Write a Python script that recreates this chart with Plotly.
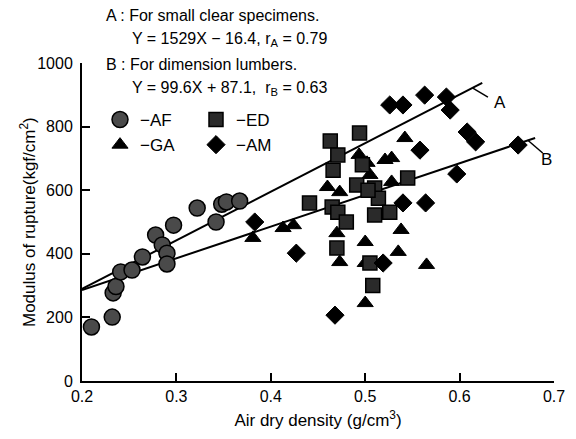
import plotly.graph_objects as go

# ---- data ----
af_x = [0.210, 0.232, 0.233, 0.236, 0.241, 0.253, 0.264, 0.278, 0.285, 0.290, 0.290, 0.297, 0.322, 0.342, 0.348, 0.353, 0.367]
af_y = [170, 201, 277, 297, 343, 349, 390, 459, 428, 402, 368, 490, 544, 500, 556, 563, 566]

ed_x = [0.463, 0.494, 0.471, 0.466, 0.497, 0.491, 0.510, 0.514, 0.441, 0.465, 0.471, 0.480, 0.510, 0.526, 0.545, 0.470, 0.505, 0.508, 0.503]
ed_y = [755, 780, 711, 663, 680, 616, 607, 575, 560, 547, 531, 500, 522, 531, 638, 418, 371, 300, 600]

ga_x = [0.381, 0.413, 0.424, 0.460, 0.473, 0.4935, 0.502, 0.505, 0.521, 0.528, 0.528, 0.542, 0.470, 0.473, 0.500, 0.500, 0.500, 0.538, 0.535, 0.565]
ga_y = [450, 481, 490, 610, 594, 711, 686, 648, 695, 701, 626, 764, 465, 374, 437, 371, 245, 475, 406, 365]

am_x = [0.383, 0.427, 0.468, 0.519, 0.526, 0.540, 0.563, 0.586, 0.590, 0.608, 0.617, 0.558, 0.662, 0.597, 0.540, 0.564]
am_y = [500, 402, 207, 371, 868, 868, 899, 893, 852, 783, 752, 726, 742, 651, 560, 560]

# regression lines (as drawn)
line_a = dict(slope=1529, intercept=-16.4, x_range=[0.2, 0.624])
line_b = dict(slope=996, intercept=87.1, x_range=[0.2, 0.68])

x_ticks = [0.2, 0.3, 0.4, 0.5, 0.6, 0.7]
y_ticks = [0, 200, 400, 600, 800, 1000]

FONT = "Liberation Sans, Arial, sans-serif"

fig = go.Figure()

for ln in (line_a, line_b):
    xs = ln["x_range"]
    ys = [ln["slope"] * v + ln["intercept"] for v in xs]
    fig.add_trace(go.Scatter(x=xs, y=ys, mode="lines", line=dict(color="black", width=2),
                             showlegend=False, hoverinfo="skip"))

fig.add_trace(go.Scatter(x=af_x, y=af_y, mode="markers", name="−AF", legend="legend",
                         marker=dict(symbol="circle", size=16, color="#4a4a4a",
                                     line=dict(color="black", width=1.5))))
fig.add_trace(go.Scatter(x=ga_x, y=ga_y, mode="markers", name="−GA", legend="legend",
                         marker=dict(symbol="triangle-up", size=14, color="black",
                                     line=dict(color="black", width=1))))
fig.add_trace(go.Scatter(x=ed_x, y=ed_y, mode="markers", name="−ED", legend="legend2",
                         marker=dict(symbol="square", size=14, color="#2a2a2a",
                                     line=dict(color="black", width=1.5))))
fig.add_trace(go.Scatter(x=am_x, y=am_y, mode="markers", name="−AM", legend="legend2",
                         marker=dict(symbol="diamond", size=14, color="black",
                                     line=dict(color="black", width=1))))

# page body has an 8px margin; compensate so the plot area lands at
# x 82..554, y 63..381 of the 576x439 window
OFF = 8
W, H = 576 - OFF, 439 - OFF
L, R, T, B = 82 - OFF, 22, 63 - OFF, 58
PL, PR, PT, PB = 82, 554, 63, 381  # plot area in window pixels


def px(xp):
    return (xp - PL) / (PR - PL)


def py(yp):
    return (PB - yp) / (PB - PT)


annos = [
    ("A : For small clear specimens.", 104, 15),
    ("Y = 1529X − 16.4, r<sub>A</sub> = 0.79", 130, 40),
    ("B : For dimension lumbers.", 104, 64),
    ("Y = 99.6X + 87.1,  r<sub>B</sub> = 0.63", 130, 88),
]
for txt, xp, yp in annos:
    fig.add_annotation(text=txt, xref="paper", yref="paper", x=px(xp), y=py(yp),
                       xanchor="left", yanchor="middle", showarrow=False,
                       font=dict(family=FONT, size=16, color="black"))

# y-axis title
fig.add_annotation(text="Modulus of rupture(kgf/cm<sup>2</sup>)", xref="paper", yref="paper",
                   x=px(28), y=py(222), xanchor="center", yanchor="middle", textangle=-90,
                   showarrow=False, font=dict(family=FONT, size=17, color="black"))

# line labels with leaders
fig.add_shape(type="line", x0=0.614, y0=921, x1=0.630, y1=893, line=dict(color="black", width=1.5))
fig.add_annotation(text="A", x=0.643, y=877, showarrow=False, font=dict(family=FONT, size=17, color="black"))
fig.add_shape(type="line", x0=0.672, y0=758, x1=0.688, y1=717, line=dict(color="black", width=1.5))
fig.add_annotation(text="B", x=0.692, y=698, showarrow=False, font=dict(family=FONT, size=17, color="black"))

axis_common = dict(showline=True, linecolor="black", linewidth=2, ticks="inside", ticklen=8,
                   tickwidth=1.5, tickcolor="black", showgrid=False, zeroline=False,
                   tickfont=dict(family=FONT, size=16, color="black"), mirror=False)

fig.update_xaxes(range=[0.2, 0.7], tickvals=x_ticks, ticktext=[f"{v:.1f}" for v in x_ticks],
                 title=dict(text="Air dry density (g/cm<sup>3</sup>)", font=dict(family=FONT, size=17, color="black"),
                            standoff=10),
                 **axis_common)
fig.update_yaxes(range=[0, 1000], tickvals=y_ticks, ticklabelstandoff=4, **axis_common)

leg_font = dict(family=FONT, size=17, color="black")
fig.update_layout(
    width=W, height=H,
    margin=dict(l=L, r=R, t=T, b=B),
    paper_bgcolor="white", plot_bgcolor="white",
    font=dict(family=FONT, color="black"),
    legend=dict(x=px(100), y=py(102), xanchor="left", yanchor="top", font=leg_font,
                bgcolor="rgba(0,0,0,0)", itemclick=False, tracegroupgap=0),
    legend2=dict(x=px(196), y=py(102), xanchor="left", yanchor="top", font=leg_font,
                 bgcolor="rgba(0,0,0,0)", itemclick=False, tracegroupgap=0),
)

fig.write_html("out.html")
